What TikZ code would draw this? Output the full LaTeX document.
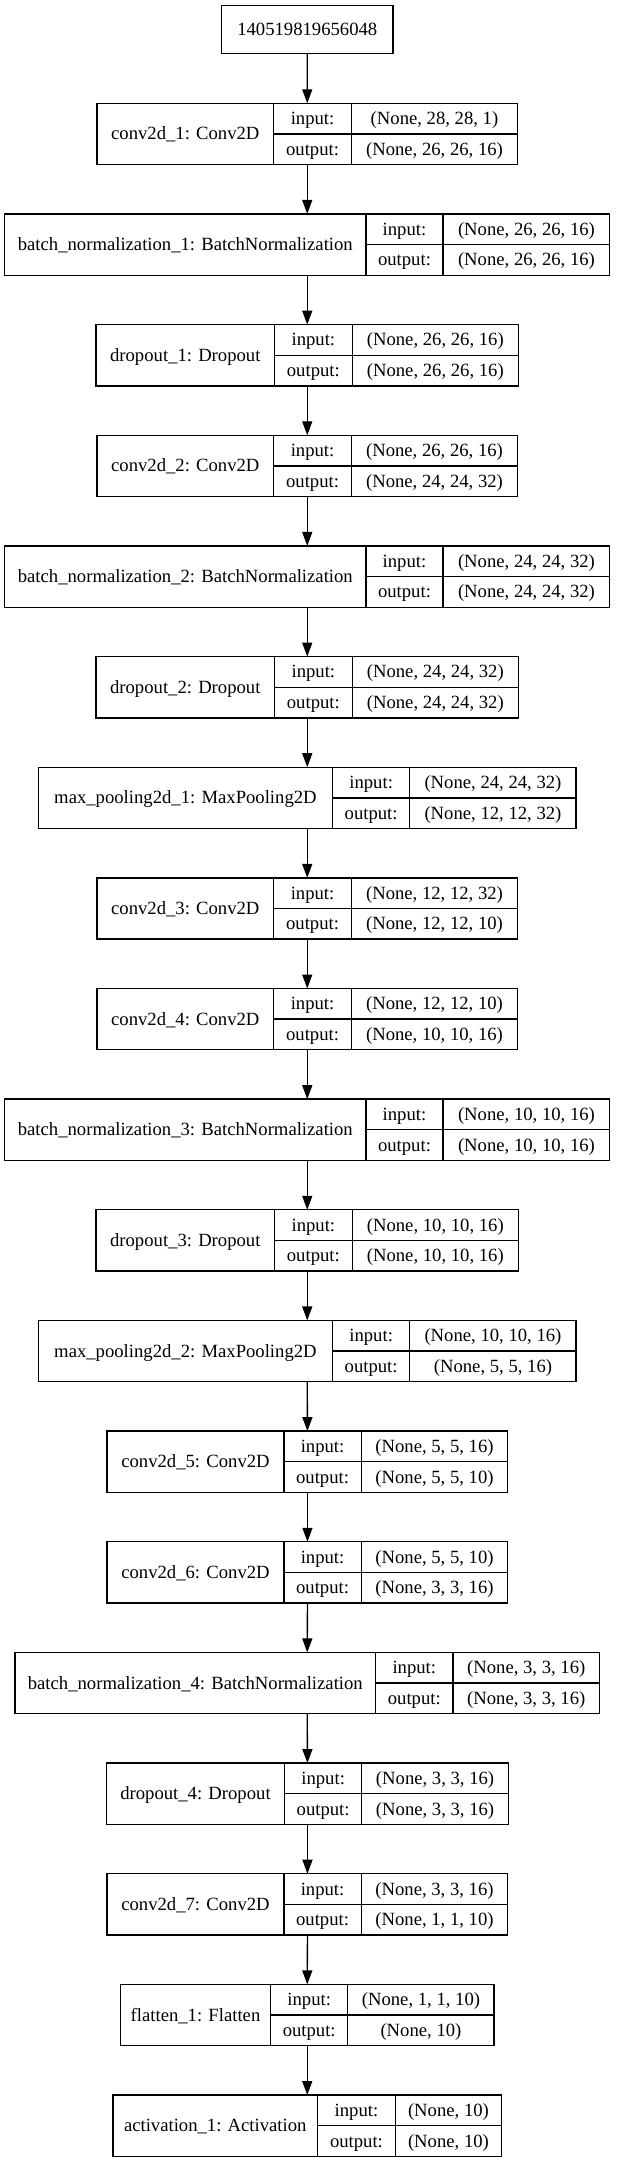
\documentclass[tikz,border=0pt]{standalone}
\usepackage{fontspec}
\setmainfont{Liberation Serif}
\usetikzlibrary{arrows.meta}
\tikzset{
  layerbox/.style={draw=black, line width=1.33pt, inner sep=0pt, outer sep=0pt, minimum height=61.3pt, anchor=north west},
  topbox/.style={draw=black, line width=1.33pt, inner sep=0pt, outer sep=0pt, anchor=north west},
  cellline/.style={draw=black, line width=1.33pt},
  txt/.style={inner sep=0pt, font=\fontsize{18.67pt}{20pt}\selectfont, text height=15.5pt, text depth=3.5pt},
  arr/.style={draw=black, line width=1.33pt, -{Triangle[length=14pt,width=10pt]}}
}
% #1 name, #2 top y, #3 left, #4 div1, #5 div2, #6 right, #7 label, #8 input, #9 output
\newcommand{\klayer}[9]{%
  \node[layerbox, minimum width={(#6-#3)*1pt}] (#1) at (#3,-#2) {};
  \draw[cellline] (#4,-#2) -- (#4,{-(#2+61.3)});
  \draw[cellline] (#5,-#2) -- (#5,{-(#2+61.3)});
  \draw[cellline] (#4,{-(#2+30.65)}) -- (#6,{-(#2+30.65)});
  \node[txt] (#1-lab) at ({(#3+#4)/2},{-(#2+30.65)}) {#7};
  \node[txt] (#1-il) at ({(#4+#5)/2},{-(#2+15.33)}) {input:};
  \node[txt] (#1-iv) at ({(#5+#6)/2},{-(#2+15.33)}) {#8};
  \node[txt] (#1-ol) at ({(#4+#5)/2},{-(#2+45.98)}) {output:};
  \node[txt] (#1-ov) at ({(#5+#6)/2},{-(#2+45.98)}) {#9};
}
\begin{document}
\begin{tikzpicture}[x=1pt,y=1pt]
\fill[white] (0,0) rectangle (616,-2163);
\useasboundingbox (0,0) rectangle (616,-2163);

\node[topbox, minimum width=171.4pt, minimum height=47.6pt] (in) at (221.6,-5.7) {};
\node[txt] (in-lab) at (307.3,-29.5) {140519819656048};

\klayer{L1}{103.3}{96.9}{273.7}{351.4}{517.6}{conv2d\_1: Conv2D}{(None, 28, 28, 1)}{(None, 26, 26, 16)}
\klayer{L2}{213.95}{4.7}{365.9}{443.1}{609.8}{batch\_normalization\_1: BatchNormalization}{(None, 26, 26, 16)}{(None, 26, 26, 16)}
\klayer{L3}{324.6}{96.1}{274.5}{352.2}{518.4}{dropout\_1: Dropout}{(None, 26, 26, 16)}{(None, 26, 26, 16)}
\klayer{L4}{435.25}{96.9}{273.7}{351.4}{517.6}{conv2d\_2: Conv2D}{(None, 26, 26, 16)}{(None, 24, 24, 32)}
\klayer{L5}{545.9}{4.7}{365.9}{443.1}{609.8}{batch\_normalization\_2: BatchNormalization}{(None, 24, 24, 32)}{(None, 24, 24, 32)}
\klayer{L6}{656.55}{96.1}{274.5}{352.2}{518.4}{dropout\_2: Dropout}{(None, 24, 24, 32)}{(None, 24, 24, 32)}
\klayer{L7}{767.2}{38.4}{332.5}{409.8}{576.1}{max\_pooling2d\_1: MaxPooling2D}{(None, 24, 24, 32)}{(None, 12, 12, 32)}
\klayer{L8}{877.85}{96.9}{273.7}{351.4}{517.6}{conv2d\_3: Conv2D}{(None, 12, 12, 32)}{(None, 12, 12, 10)}
\klayer{L9}{988.5}{96.9}{273.7}{351.4}{517.6}{conv2d\_4: Conv2D}{(None, 12, 12, 10)}{(None, 10, 10, 16)}
\klayer{L10}{1099.15}{4.7}{365.9}{443.1}{609.8}{batch\_normalization\_3: BatchNormalization}{(None, 10, 10, 16)}{(None, 10, 10, 16)}
\klayer{L11}{1209.8}{96.1}{274.5}{352.2}{518.4}{dropout\_3: Dropout}{(None, 10, 10, 16)}{(None, 10, 10, 16)}
\klayer{L12}{1320.45}{38.4}{332.5}{409.8}{576.1}{max\_pooling2d\_2: MaxPooling2D}{(None, 10, 10, 16)}{(None, 5, 5, 16)}
\klayer{L13}{1431.1}{107.1}{283.9}{361.2}{507.8}{conv2d\_5: Conv2D}{(None, 5, 5, 16)}{(None, 5, 5, 10)}
\klayer{L14}{1541.75}{107.1}{283.9}{361.2}{507.8}{conv2d\_6: Conv2D}{(None, 5, 5, 10)}{(None, 3, 3, 16)}
\klayer{L15}{1652.4}{14.9}{375.7}{452.9}{599.6}{batch\_normalization\_4: BatchNormalization}{(None, 3, 3, 16)}{(None, 3, 3, 16)}
\klayer{L16}{1763.05}{106.3}{284.7}{361.6}{508.6}{dropout\_4: Dropout}{(None, 3, 3, 16)}{(None, 3, 3, 16)}
\klayer{L17}{1873.7}{107.1}{283.9}{361.2}{507.8}{conv2d\_7: Conv2D}{(None, 3, 3, 16)}{(None, 1, 1, 10)}
\klayer{L18}{1984.35}{120.4}{270.6}{347.8}{494.1}{flatten\_1: Flatten}{(None, 1, 1, 10)}{(None, 10)}
\klayer{L19}{2095.0}{112.9}{317.6}{395.3}{501.6}{activation\_1: Activation}{(None, 10)}{(None, 10)}

\draw[arr] (in.south) -- (L1.north);
\draw[arr] (L1.south) -- (L2.north);
\draw[arr] (L2.south) -- (L3.north);
\draw[arr] (L3.south) -- (L4.north);
\draw[arr] (L4.south) -- (L5.north);
\draw[arr] (L5.south) -- (L6.north);
\draw[arr] (L6.south) -- (L7.north);
\draw[arr] (L7.south) -- (L8.north);
\draw[arr] (L8.south) -- (L9.north);
\draw[arr] (L9.south) -- (L10.north);
\draw[arr] (L10.south) -- (L11.north);
\draw[arr] (L11.south) -- (L12.north);
\draw[arr] (L12.south) -- (L13.north);
\draw[arr] (L13.south) -- (L14.north);
\draw[arr] (L14.south) -- (L15.north);
\draw[arr] (L15.south) -- (L16.north);
\draw[arr] (L16.south) -- (L17.north);
\draw[arr] (L17.south) -- (L18.north);
\draw[arr] (L18.south) -- (L19.north);
\end{tikzpicture}
\end{document}
